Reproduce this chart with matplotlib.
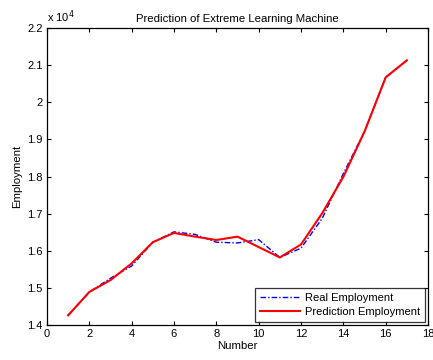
import matplotlib
matplotlib.use("Agg")
import matplotlib.pyplot as plt
from matplotlib.ticker import FuncFormatter

plt.rcParams["font.family"] = ["Liberation Sans", "DejaVu Sans"]

# data
number = [1, 2, 3, 4, 5, 6, 7, 8, 9, 10, 11, 12, 13, 14, 15, 16, 17]
real_employment = [14260, 14890, 15260, 15590, 16230, 16510, 16440, 16230, 16210,
                   16300, 15820, 16070, 16870, 18080, 19210, 20670, 21130]
pred_employment = [14260, 14890, 15210, 15660, 16230, 16480, 16380, 16290, 16380,
                   16100, 15820, 16170, 17010, 17990, 19210, 20670, 21130]

fig = plt.figure(figsize=(4.33, 3.6), dpi=100)
ax = fig.add_axes([0.1085, 0.0972, 0.88, 0.825])

ax.plot(number, real_employment, color="blue", linestyle=(0, (4, 1.5, 1, 1.5)),
        linewidth=1.0, label="Real Employment")
ax.plot(number, pred_employment, color="red", linestyle="-", linewidth=1.5,
        label="Prediction Employment")

ax.set_xlim(0, 18)
ax.set_ylim(14000, 22000)
ax.set_xticks(range(0, 19, 2))
ax.set_yticks([14000 + 1000 * i for i in range(9)])
ax.yaxis.set_major_formatter(FuncFormatter(lambda v, p: "%g" % (v / 1e4)))

ax.tick_params(direction="in", top=True, right=True, length=3, width=0.8,
               labelsize=8, pad=3)
for s in ax.spines.values():
    s.set_linewidth(0.9)

ax.text(0.0, 1.01, r"x 10$^{4}$", transform=ax.transAxes, fontsize=8,
        ha="left", va="bottom")

ax.set_title("Prediction of Extreme Learning Machine", fontsize=8.2, pad=4)
ax.set_xlabel("Number", fontsize=8.2, labelpad=1)
ax.set_ylabel("Employment", fontsize=8.2, labelpad=4)

leg = ax.legend(loc="lower right", fontsize=8, frameon=True, fancybox=False,
                edgecolor="black", borderaxespad=0.25, handlelength=3.6,
                borderpad=0.45, labelspacing=0.35, handletextpad=0.5)
leg.get_frame().set_linewidth(0.9)

fig.savefig("out.png", dpi=100)
